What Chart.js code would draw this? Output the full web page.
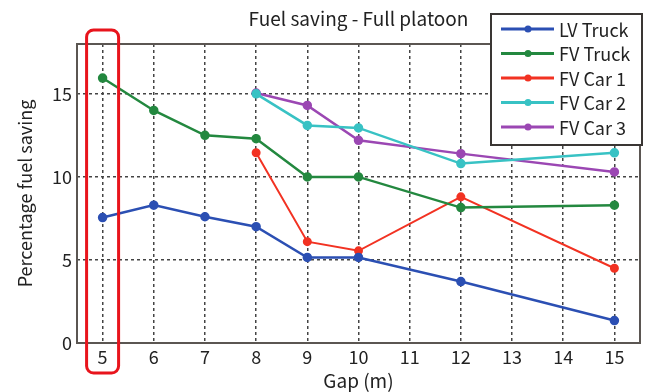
<!DOCTYPE html>
<html>
<head>
<meta charset="utf-8">
<script src="https://cdn.jsdelivr.net/npm/chart.js@4.4.0/dist/chart.umd.min.js"></script>
<style>
  html, body { margin: 0; padding: 0; background: #fff; }
  #wrap { width: 652px; height: 392px; }
</style>
</head>
<body>
<div id="wrap"><canvas id="fuel"></canvas></div>
<script>
// data
const gapAll = [5, 6, 7, 8, 9, 10, 12, 15];
const gapCars = [8, 9, 10, 12, 15];
const lvTruck = [7.55, 8.3, 7.6, 7.0, 5.15, 5.15, 3.7, 1.35];
const fvTruck = [15.95, 14.0, 12.5, 12.3, 10.0, 10.0, 8.15, 8.3];
const fvCar1 = [11.45, 6.1, 5.55, 8.8, 4.5];
const fvCar2 = [15.0, 13.1, 12.95, 10.8, 11.45];
const fvCar3 = [15.05, 14.3, 12.2, 11.4, 10.3];
const xTicks = [5, 6, 7, 8, 9, 10, 11, 12, 13, 14, 15];
const yTicks = [0, 5, 10, 15];
const seriesNames = ['LV Truck', 'FV Truck', 'FV Car 1', 'FV Car 2', 'FV Car 3'];
const seriesColors = ['#2b4fb3', '#23883f', '#f23222', '#38c2c4', '#9b47b3'];
const highlightGap = 5;

const font = '"Noto Sans CJK JP", "Noto Sans", sans-serif';

function pts(xs, ys) {
  return xs.map((x, i) => ({ x: x, y: ys[i] }));
}

const allSeries = [
  pts(gapAll, lvTruck),
  pts(gapAll, fvTruck),
  pts(gapCars, fvCar1),
  pts(gapCars, fvCar2),
  pts(gapCars, fvCar3)
];

const datasets = allSeries.map((d, i) => ({
  label: seriesNames[i],
  data: d,
  borderColor: seriesColors[i],
  backgroundColor: seriesColors[i],
  borderWidth: i == 2 ? 2 : 2.5,
  pointRadius: 3.5,
  pointHoverRadius: 3.5,
  tension: 0
}));

// box, title, legend and the red highlight
const extras = {
  id: 'extras',
  afterDraw(chart) {
    const ctx = chart.ctx;
    const a = chart.chartArea;
    const xs = chart.scales.x;

    ctx.save();
    // plot frame
    ctx.strokeStyle = '#5b5652';
    ctx.lineWidth = 2;
    ctx.strokeRect(a.left, a.top, a.right - a.left, a.bottom - a.top);

    // title
    ctx.fillStyle = '#222';
    ctx.font = '19px ' + font;
    ctx.textAlign = 'center';
    ctx.textBaseline = 'middle';
    ctx.fillText('Fuel saving - Full platoon', (a.left + a.right) / 2, 19);

    // legend
    const lx = 491, ly = 14, lw = 151, lh = 131;
    ctx.fillStyle = '#fff';
    ctx.fillRect(lx, ly, lw, lh);
    ctx.strokeStyle = '#3a3634';
    ctx.lineWidth = 2;
    ctx.strokeRect(lx, ly, lw, lh);
    ctx.font = '18px ' + font;
    ctx.textAlign = 'left';
    seriesNames.forEach((name, i) => {
      const y = ly + 15 + i * 24.5;
      ctx.strokeStyle = seriesColors[i];
      ctx.lineWidth = 3;
      ctx.beginPath();
      ctx.moveTo(lx + 10, y);
      ctx.lineTo(lx + 63, y);
      ctx.stroke();
      ctx.fillStyle = seriesColors[i];
      ctx.beginPath();
      ctx.arc(lx + 37, y, 3.5, 0, Math.PI * 2);
      ctx.fill();
      ctx.fillStyle = '#222';
      ctx.fillText(name, lx + 68, y + 1);
    });

    // red rounded box around gap 5
    const cx = xs.getPixelForValue(highlightGap);
    ctx.strokeStyle = '#e8141c';
    ctx.lineWidth = 3;
    ctx.beginPath();
    ctx.roundRect(cx - 16, 30, 32, 343, 7);
    ctx.stroke();
    ctx.restore();
  }
};

new Chart(document.getElementById('fuel'), {
  type: 'line',
  data: { datasets: datasets },
  plugins: [extras],
  options: {
    responsive: true,
    maintainAspectRatio: false,
    animation: false,
    layout: { padding: { left: 0, right: 12, top: 44, bottom: 0 } },
    plugins: {
      legend: { display: false },
      title: { display: false },
      tooltip: { enabled: false }
    },
    scales: {
      x: {
        type: 'linear',
        min: 4.5,
        max: 15.5,
        afterBuildTicks: (scale) => { scale.ticks = xTicks.map(v => ({ value: v })); },
        afterFit: (scale) => { scale.height = 49; },
        grid: { color: '#444', lineWidth: 1.5, tickLength: 0, drawTicks: false },
        border: { display: false, dash: [3, 3] },
        ticks: { color: '#222', font: { family: font, size: 18 }, padding: 3, maxRotation: 0 },
        title: { display: true, text: 'Gap (m)', color: '#222', font: { family: font, size: 19 }, padding: { top: -6, bottom: 0 } }
      },
      y: {
        min: 0,
        max: 18,
        afterBuildTicks: (scale) => { scale.ticks = yTicks.map(v => ({ value: v })); },
        afterFit: (scale) => { scale.width = 77; },
        grid: { color: '#444', lineWidth: 1.5, tickLength: 0, drawTicks: false },
        border: { display: false, dash: [3, 3] },
        ticks: { color: '#222', font: { family: font, size: 18 }, padding: 5 },
        title: { display: true, text: 'Percentage fuel saving', color: '#222', font: { family: font, size: 18 }, padding: { top: 14, bottom: 4 } }
      }
    }
  }
});
</script>
</body>
</html>
